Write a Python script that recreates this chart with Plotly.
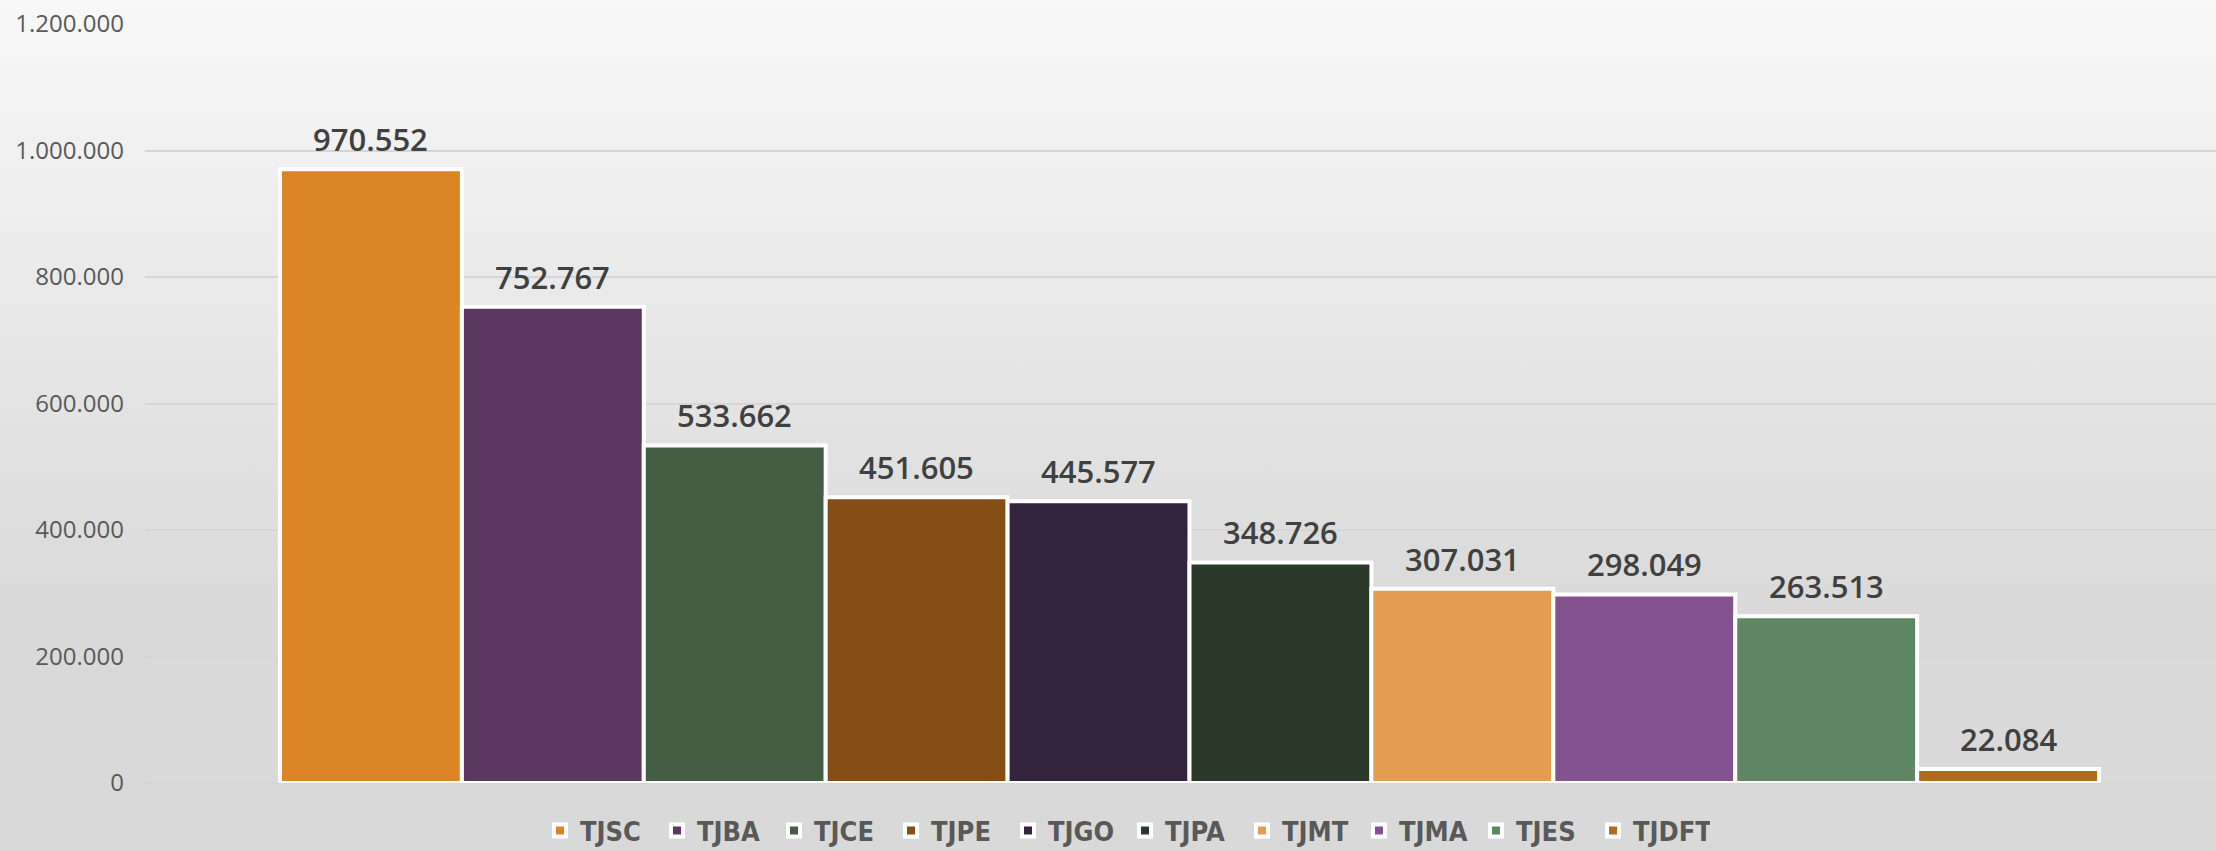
import base64
import plotly.graph_objects as go

categories = ["TJSC", "TJBA", "TJCE", "TJPE", "TJGO", "TJPA", "TJMT", "TJMA", "TJES", "TJDFT"]
values = [970552, 752767, 533662, 451605, 445577, 348726, 307031, 298049, 263513, 22084]
colors = ["#DB8425", "#5C3762", "#435E45", "#844E16", "#34233C",
          "#2A382A", "#E39C52", "#82538F", "#608764", "#B06B1F"]
y_ticks = [0, 200000, 400000, 600000, 800000, 1000000, 1200000]


def fmt(v):
    return f"{v:,}".replace(",", ".")


W, H = 2216, 851
ML, MR, MT, MB = 145, 0, 24, 68
PW, PH = W - ML - MR, H - MT - MB

fig = go.Figure()
for i, (cat, val, col) in enumerate(zip(categories, values, colors)):
    fig.add_trace(go.Bar(
        x=[i], y=[val], width=1, name=cat,
        marker=dict(color=col, line=dict(color="white", width=4)),
        hoverinfo="name+y",
    ))
    fig.add_annotation(
        x=i, y=val, text=fmt(val), showarrow=False,
        yanchor="bottom", yshift=7,
        font=dict(family="Open Sans", size=31, color="#404040", weight=600),
    )

svg = (
    '<svg xmlns="http://www.w3.org/2000/svg" width="100" height="100" preserveAspectRatio="none">'
    '<defs><linearGradient id="g" x1="0" y1="0" x2="0" y2="1">'
    '<stop offset="0" stop-color="#F8F8F8"/>'
    '<stop offset="0.72" stop-color="#D9D9D9"/>'
    '<stop offset="1" stop-color="#D9D9D9"/>'
    '</linearGradient></defs>'
    '<rect width="100" height="100" fill="url(#g)"/></svg>'
)
src = "data:image/svg+xml;base64," + base64.b64encode(svg.encode()).decode()

fig.add_layout_image(dict(
    source=src, xref="paper", yref="paper",
    x=-ML / PW, y=1 + MT / PH, sizex=W / PW, sizey=H / PH,
    xanchor="left", yanchor="top", sizing="stretch", layer="below",
))

fig.update_layout(
    width=W, height=H,
    margin=dict(l=ML, r=MR, t=MT, b=MB, pad=0, autoexpand=False),
    barmode="overlay",
    separators=",.",
    paper_bgcolor="#D9D9D9",
    plot_bgcolor="rgba(0,0,0,0)",
    showlegend=True,
    legend=dict(
        orientation="h", x=(540 - ML) / PW, xanchor="left",
        y=-(831 - (H - MB)) / PH, yanchor="middle",
        entrywidth=72,
        font=dict(family="DejaVu Sans Condensed, DejaVu Sans, sans-serif",
                  size=27, color="#595959", weight="bold"),
        bgcolor="rgba(0,0,0,0)", itemclick=False, itemdoubleclick=False,
        traceorder="normal",
    ),
    xaxis=dict(
        range=[-1.242, 10.143], showticklabels=False, showgrid=False,
        zeroline=False, showline=False, fixedrange=True,
    ),
    yaxis=dict(
        range=[0, 1200000], tickvals=y_ticks, ticktext=[fmt(v) for v in y_ticks],
        showgrid=True, gridcolor="#D6D6D6", gridwidth=2,
        zeroline=True, zerolinecolor="#D6D6D6", zerolinewidth=2,
        showline=False, ticks="", ticklabelstandoff=20,
        tickfont=dict(family="Open Sans", size=24, color="#595959"),
        fixedrange=True,
    ),
)

fig.write_html(
    "out.html",
    config={"displayModeBar": False},
    post_script="document.body.style.margin='0';document.body.style.overflow='hidden';",
)
